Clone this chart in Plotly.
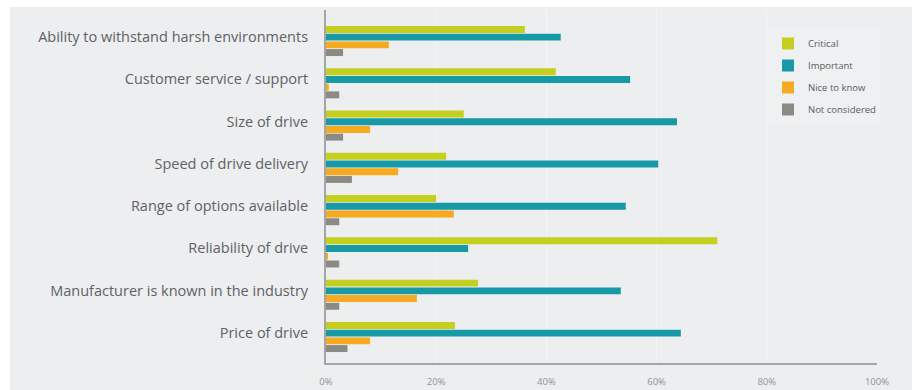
import plotly.graph_objects as go

categories = [
    "Ability to withstand harsh environments",
    "Customer service / support",
    "Size of drive",
    "Speed of drive delivery",
    "Range of options available",
    "Reliability of drive",
    "Manufacturer is known in the industry",
    "Price of drive",
]
series_names = ["Critical", "Important", "Nice to know", "Not considered"]
critical = [36.1, 41.7, 25.0, 21.8, 20.0, 71.0, 27.6, 23.4]
important = [42.6, 55.2, 63.7, 60.3, 54.4, 25.8, 53.5, 64.4]
nice_to_know = [11.4, 0.5, 8.0, 13.1, 23.2, 0.3, 16.5, 8.0]
not_considered = [3.1, 2.4, 3.1, 4.7, 2.4, 2.4, 2.4, 3.9]
x_tick_values = [0, 20, 40, 60, 80, 100]
x_tick_labels = ["0%", "20%", "40%", "60%", "80%", "100%"]

colors = ["#c5cf1f", "#1799a6", "#f5aa1f", "#8b8a84"]
series_values = [critical, important, nice_to_know, not_considered]

W, H = 912, 390
ML, MR, MT, MB = 326, 35, 10, 27
BG = "#eceef0"

fig = go.Figure()
for name, vals, col in zip(series_names, series_values, colors):
    fig.add_trace(go.Bar(
        y=categories, x=vals, name=name, orientation="h",
        marker=dict(color=col, line=dict(width=0)),
        legendgroup=name,
    ))

pw = W - ML - MR
ph = H - MT - MB
# gray panel with a thin white strip at top and left (as in the reference)
fig.add_shape(type="rect", xref="paper", yref="paper",
              x0=(10 - ML) / pw, x1=(W - ML) / pw,
              y0=-(MB) / ph, y1=1 + (MT - 7) / ph,
              fillcolor=BG, line=dict(width=0), layer="below")

fig.update_layout(
    width=W, height=H, autosize=False,
    margin=dict(l=ML, r=MR, t=MT, b=MB, pad=0),
    paper_bgcolor="white",
    plot_bgcolor="rgba(0,0,0,0)",
    barmode="group",
    bargap=0.27,
    bargroupgap=0.1,
    font=dict(family="Open Sans", color="#5f6163"),
    showlegend=True,
    legend=dict(
        x=(768 - ML) / pw, y=1 - (29 - MT) / ph, xanchor="left", yanchor="top",
        bgcolor="rgba(255,255,255,0.15)",
        font=dict(size=9.5, color="#5a5c60"),
        traceorder="grouped",
        tracegroupgap=3,
        itemwidth=30,
    ),
    xaxis=dict(
        automargin=False,
        range=[0, 100], tickvals=x_tick_values, ticktext=x_tick_labels,
        showgrid=True, gridcolor="#f4f5f6", gridwidth=1,
        zeroline=False, showline=True, linecolor="#a3a5a8", linewidth=2,
        tickfont=dict(size=9.5, color="#909296"),
        ticks="", ticklabelstandoff=9,
    ),
    yaxis=dict(
        automargin=False,
        type="category", categoryorder="array", categoryarray=categories,
        range=[7.615, -0.733],
        showgrid=False, zeroline=False, showline=True,
        linecolor="#a3a5a8", linewidth=2,
        tickfont=dict(size=14.5, color="#606265"), ticks="outside",
        ticklen=13, tickcolor="rgba(0,0,0,0)",
        ticklabelshift=4,
    ),
)

fig.write_html("out.html")
